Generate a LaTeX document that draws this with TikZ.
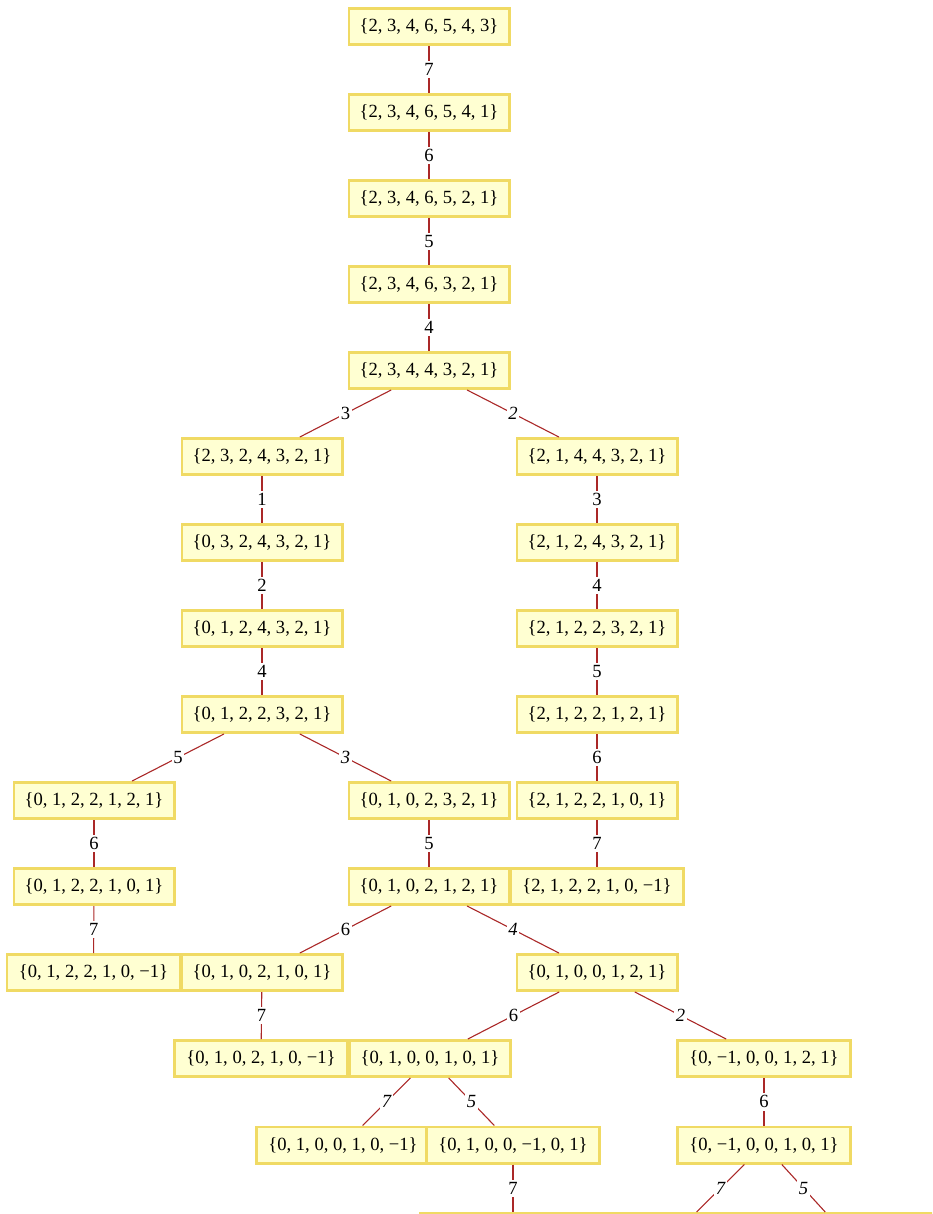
\documentclass[tikz,border=0pt]{standalone}
\usepackage{fontspec}
\setmainfont{Liberation Serif}
\definecolor{boxfill}{RGB}{255,255,210}
\definecolor{boxdraw}{RGB}{240,218,100}
\definecolor{edgecol}{RGB}{170,40,40}
\tikzset{
  vbox/.style={draw=boxdraw, fill=boxfill, line width=2.8pt, minimum width=160.2pt,
    minimum height=36.2pt, inner sep=0pt, font=\fontsize{18.6}{21}\selectfont},
  negbox/.style={vbox, minimum width=173.2pt},
  neg2box/.style={vbox, minimum width=186.2pt},
  edge/.style={draw=edgecol, line width=1.1pt},
  lbl/.style={midway, fill=white, inner xsep=1.5pt, inner ysep=2.5pt, font=\fontsize{18.6}{21}\selectfont},
  ilbl/.style={lbl, font=\fontsize{18.6}{21}\selectfont\itshape}
}
\begin{document}
\begin{tikzpicture}[x=1pt, y=-1pt]
\useasboundingbox (0,0) rectangle (932,1214);
\begin{scope}
\clip (0,0) rectangle (932,1214);
\node[vbox] (n0) at (429,26.5) {\{2, 3, 4, 6, 5, 4, 3\}};
\node[vbox] (n1) at (429,112.5) {\{2, 3, 4, 6, 5, 4, 1\}};
\node[vbox] (n2) at (429,198.5) {\{2, 3, 4, 6, 5, 2, 1\}};
\node[vbox] (n3) at (429,284.5) {\{2, 3, 4, 6, 3, 2, 1\}};
\node[vbox] (n4) at (429,370.5) {\{2, 3, 4, 4, 3, 2, 1\}};
\node[vbox] (l5) at (262,456.5) {\{2, 3, 2, 4, 3, 2, 1\}};
\node[vbox] (r5) at (597,456.5) {\{2, 1, 4, 4, 3, 2, 1\}};
\node[vbox] (l6) at (262,542.5) {\{0, 3, 2, 4, 3, 2, 1\}};
\node[vbox] (r6) at (597,542.5) {\{2, 1, 2, 4, 3, 2, 1\}};
\node[vbox] (l7) at (262,628.5) {\{0, 1, 2, 4, 3, 2, 1\}};
\node[vbox] (r7) at (597,628.5) {\{2, 1, 2, 2, 3, 2, 1\}};
\node[vbox] (l8) at (262,714.5) {\{0, 1, 2, 2, 3, 2, 1\}};
\node[vbox] (r8) at (597,714.5) {\{2, 1, 2, 2, 1, 2, 1\}};
\node[vbox] (a9) at (94,800.5) {\{0, 1, 2, 2, 1, 2, 1\}};
\node[vbox] (b9) at (429,800.5) {\{0, 1, 0, 2, 3, 2, 1\}};
\node[vbox] (r9) at (597,800.5) {\{2, 1, 2, 2, 1, 0, 1\}};
\node[vbox] (a10) at (94,886.5) {\{0, 1, 2, 2, 1, 0, 1\}};
\node[vbox] (b10) at (429,886.5) {\{0, 1, 0, 2, 1, 2, 1\}};
\node[negbox] (r10) at (597,886.5) {\{2, 1, 2, 2, 1, 0, −1\}};
\node[negbox] (a11) at (93.5,972.5) {\{0, 1, 2, 2, 1, 0, −1\}};
\node[vbox] (c11) at (262,972.5) {\{0, 1, 0, 2, 1, 0, 1\}};
\node[vbox] (d11) at (597,972.5) {\{0, 1, 0, 0, 1, 2, 1\}};
\node[negbox] (c12) at (261,1058.5) {\{0, 1, 0, 2, 1, 0, −1\}};
\node[vbox] (e12) at (430,1058.5) {\{0, 1, 0, 0, 1, 0, 1\}};
\node[negbox] (f12) at (764,1058.5) {\{0, −1, 0, 0, 1, 2, 1\}};
\node[negbox] (e13a) at (343,1145) {\{0, 1, 0, 0, 1, 0, −1\}};
\node[negbox] (e13b) at (513,1145) {\{0, 1, 0, 0, −1, 0, 1\}};
\node[negbox] (f13) at (764,1145) {\{0, −1, 0, 0, 1, 0, 1\}};
\node[neg2box] (g14) at (513,1231.5) {};
\node[neg2box] (h14) at (677,1231.5) {};
\node[neg2box] (i14) at (843,1231.5) {};
\path[edge] (n0) -- node[lbl]{7} (n1);
\path[edge] (n1) -- node[lbl]{6} (n2);
\path[edge] (n2) -- node[lbl]{5} (n3);
\path[edge] (n3) -- node[lbl]{4} (n4);
\path[edge] (n4) -- node[lbl]{3} (l5);
\path[edge] (n4) -- node[ilbl]{2} (r5);
\path[edge] (l5) -- node[lbl]{1} (l6);
\path[edge] (l6) -- node[lbl]{2} (l7);
\path[edge] (l7) -- node[lbl]{4} (l8);
\path[edge] (l8) -- node[lbl]{5} (a9);
\path[edge] (l8) -- node[ilbl]{3} (b9);
\path[edge] (a9) -- node[lbl]{6} (a10);
\path[edge] (a10) -- node[lbl]{7} (a11);
\path[edge] (b9) -- node[lbl]{5} (b10);
\path[edge] (b10) -- node[lbl]{6} (c11);
\path[edge] (b10) -- node[ilbl]{4} (d11);
\path[edge] (c11) -- node[lbl]{7} (c12);
\path[edge] (d11) -- node[lbl]{6} (e12);
\path[edge] (d11) -- node[ilbl]{2} (f12);
\path[edge] (e12) -- node[ilbl]{7} (e13a);
\path[edge] (e12) -- node[ilbl]{5} (e13b);
\path[edge] (e13b) -- node[lbl]{7} (g14);
\path[edge] (f12) -- node[lbl]{6} (f13);
\path[edge] (f13) -- node[ilbl]{7} (h14);
\path[edge] (f13) -- node[ilbl]{5} (i14);
\path[edge] (r5) -- node[lbl]{3} (r6);
\path[edge] (r6) -- node[lbl]{4} (r7);
\path[edge] (r7) -- node[lbl]{5} (r8);
\path[edge] (r8) -- node[lbl]{6} (r9);
\path[edge] (r9) -- node[lbl]{7} (r10);
\end{scope}
\end{tikzpicture}
\end{document}
